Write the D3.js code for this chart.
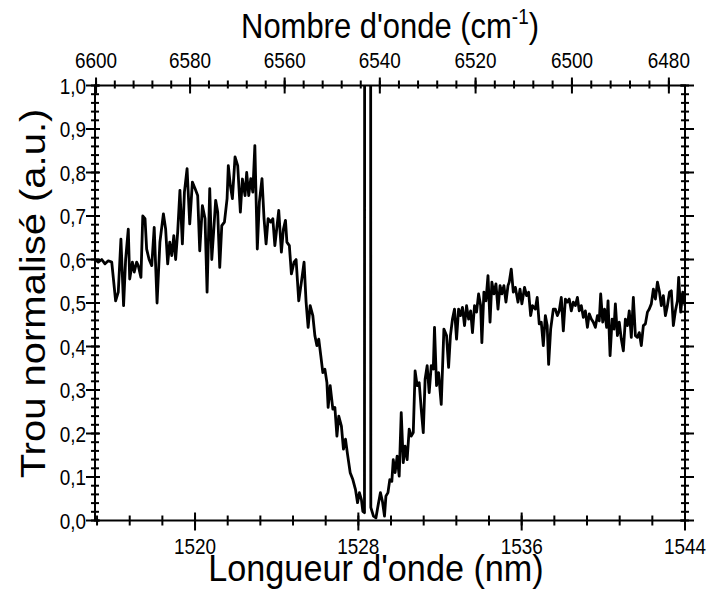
<!DOCTYPE html>
<html>
<head>
<meta charset="utf-8">
<script src="https://cdn.jsdelivr.net/npm/d3@7"></script>
<style>
  body { margin: 0; background: #fff; }
  text { font-family: "Liberation Sans", Arial, sans-serif; fill: #000; }
</style>
</head>
<body>
<script>
'use strict';

// Wavelength (nm) and normalised hole depth.
const wavelength = [
  1515.10, 1515.26, 1515.43, 1515.59, 1515.75, 1515.92, 1516.11, 1516.24, 1516.37, 1516.50,
  1516.60, 1516.73, 1516.80, 1516.93, 1517.02, 1517.14, 1517.22, 1517.35, 1517.44, 1517.55,
  1517.63, 1517.75, 1517.88, 1518.00, 1518.14, 1518.28, 1518.45, 1518.56, 1518.66, 1518.76,
  1518.86, 1518.96, 1519.05, 1519.15, 1519.26, 1519.38, 1519.48, 1519.61, 1519.74, 1519.87,
  1520.00, 1520.13, 1520.23, 1520.36, 1520.49, 1520.59, 1520.72, 1520.82, 1520.92, 1521.01,
  1521.11, 1521.21, 1521.31, 1521.44, 1521.57, 1521.63, 1521.73, 1521.83, 1521.96, 1522.09,
  1522.22, 1522.32, 1522.45, 1522.53, 1522.63, 1522.73, 1522.83, 1522.93, 1523.05, 1523.15,
  1523.28, 1523.38, 1523.48, 1523.58, 1523.71, 1523.81, 1523.91, 1524.00, 1524.10, 1524.23,
  1524.33, 1524.43, 1524.50, 1524.62, 1524.72, 1524.85, 1524.95, 1525.08, 1525.21, 1525.34,
  1525.44, 1525.54, 1525.64, 1525.77, 1525.87, 1525.97, 1526.06, 1526.16, 1526.26, 1526.36,
  1526.46, 1526.52, 1526.62, 1526.75, 1526.85, 1526.95, 1527.04, 1527.17, 1527.27, 1527.37,
  1527.47, 1527.60, 1527.73, 1527.86, 1527.96, 1528.05, 1528.15, 1528.22, 1528.30, 1528.31,
  1528.60, 1528.61, 1528.74, 1528.86, 1528.99, 1529.08, 1529.18, 1529.28, 1529.35, 1529.45,
  1529.54, 1529.64, 1529.71, 1529.80, 1529.90, 1530.00, 1530.10, 1530.20, 1530.29, 1530.39,
  1530.49, 1530.59, 1530.69, 1530.78, 1530.88, 1530.98, 1531.08, 1531.18, 1531.27, 1531.37,
  1531.47, 1531.57, 1531.67, 1531.73, 1531.83, 1531.93, 1532.06, 1532.19, 1532.32, 1532.42,
  1532.51, 1532.61, 1532.71, 1532.81, 1532.91, 1533.00, 1533.10, 1533.20, 1533.30, 1533.40,
  1533.50, 1533.59, 1533.69, 1533.79, 1533.89, 1533.99, 1534.05, 1534.15, 1534.25, 1534.35,
  1534.45, 1534.54, 1534.64, 1534.74, 1534.84, 1534.94, 1535.03, 1535.13, 1535.23, 1535.33,
  1535.39, 1535.49, 1535.59, 1535.69, 1535.82, 1535.92, 1536.01, 1536.14, 1536.24, 1536.34,
  1536.44, 1536.53, 1536.67, 1536.76, 1536.86, 1536.96, 1537.06, 1537.16, 1537.25, 1537.32,
  1537.42, 1537.55, 1537.65, 1537.75, 1537.84, 1537.94, 1538.04, 1538.14, 1538.24, 1538.33,
  1538.43, 1538.53, 1538.63, 1538.73, 1538.82, 1538.92, 1539.02, 1539.12, 1539.22, 1539.31,
  1539.41, 1539.51, 1539.61, 1539.71, 1539.80, 1539.87, 1539.97, 1540.06, 1540.16, 1540.23,
  1540.33, 1540.43, 1540.52, 1540.59, 1540.69, 1540.78, 1540.88, 1540.98, 1541.08, 1541.18,
  1541.27, 1541.37, 1541.47, 1541.57, 1541.67, 1541.76, 1541.86, 1541.96, 1542.06, 1542.16,
  1542.25, 1542.35, 1542.45, 1542.55, 1542.65, 1542.75, 1542.84, 1542.94, 1543.04, 1543.14,
  1543.24, 1543.33, 1543.43, 1543.53, 1543.63, 1543.69, 1543.79, 1543.89, 1544.00
];

const holeDepth = [
  0.600, 0.594, 0.600, 0.590, 0.597, 0.594, 0.505, 0.525, 0.647, 0.494,
  0.600, 0.670, 0.555, 0.594, 0.571, 0.594, 0.586, 0.559, 0.700, 0.694,
  0.624, 0.600, 0.586, 0.674, 0.500, 0.640, 0.705, 0.670, 0.590, 0.640,
  0.609, 0.655, 0.600, 0.663, 0.759, 0.636, 0.755, 0.809, 0.682, 0.778,
  0.763, 0.747, 0.620, 0.724, 0.694, 0.525, 0.763, 0.600, 0.670, 0.736,
  0.709, 0.582, 0.678, 0.686, 0.740, 0.816, 0.770, 0.740, 0.836, 0.816,
  0.709, 0.785, 0.747, 0.800, 0.747, 0.786, 0.755, 0.862, 0.624, 0.732,
  0.786, 0.694, 0.636, 0.694, 0.686, 0.694, 0.632, 0.670, 0.713, 0.617,
  0.670, 0.690, 0.640, 0.632, 0.567, 0.594, 0.600, 0.505, 0.548, 0.594,
  0.502, 0.444, 0.494, 0.471, 0.425, 0.402, 0.417, 0.379, 0.340, 0.348,
  0.317, 0.260, 0.310, 0.256, 0.260, 0.194, 0.240, 0.217, 0.164, 0.187,
  0.152, 0.110, 0.094, 0.071, 0.041, 0.064, 0.048, 0.021, 0.018, 1.500,
  1.500, 0.030, 0.010, 0.006, 0.041, 0.064, 0.044, 0.010, 0.056, 0.064,
  0.094, 0.090, 0.140, 0.110, 0.148, 0.102, 0.248, 0.133, 0.171, 0.140,
  0.210, 0.194, 0.202, 0.344, 0.310, 0.317, 0.256, 0.202, 0.325, 0.356,
  0.294, 0.356, 0.348, 0.444, 0.310, 0.340, 0.267, 0.440, 0.425, 0.352,
  0.425, 0.463, 0.486, 0.417, 0.486, 0.471, 0.490, 0.448, 0.494, 0.463,
  0.482, 0.432, 0.494, 0.479, 0.521, 0.494, 0.409, 0.525, 0.505, 0.563,
  0.456, 0.548, 0.521, 0.544, 0.486, 0.540, 0.521, 0.540, 0.502, 0.540,
  0.548, 0.578, 0.525, 0.536, 0.502, 0.532, 0.498, 0.536, 0.517, 0.525,
  0.471, 0.494, 0.486, 0.513, 0.452, 0.456, 0.402, 0.471, 0.448, 0.359,
  0.440, 0.486, 0.486, 0.471, 0.482, 0.513, 0.436, 0.509, 0.502, 0.509,
  0.482, 0.502, 0.494, 0.513, 0.482, 0.494, 0.467, 0.482, 0.444, 0.475,
  0.463, 0.456, 0.444, 0.471, 0.459, 0.521, 0.456, 0.486, 0.444, 0.505,
  0.379, 0.463, 0.440, 0.498, 0.425, 0.456, 0.417, 0.390, 0.463, 0.448,
  0.482, 0.421, 0.513, 0.425, 0.421, 0.432, 0.402, 0.448, 0.452, 0.479,
  0.486, 0.498, 0.532, 0.509, 0.548, 0.525, 0.494, 0.517, 0.471, 0.494,
  0.525, 0.528, 0.448, 0.482, 0.505, 0.559, 0.479, 0.525, 0.494
];

const wlTicks = [1520, 1528, 1536, 1544];
const wnTicks = [6600, 6580, 6560, 6540, 6520, 6500, 6480];
const depthTicks = [0, 0.1, 0.2, 0.3, 0.4, 0.5, 0.6, 0.7, 0.8, 0.9, 1.0];

const width = 711, height = 589;
const plotLeft = 95, plotRight = 685, plotTop = 85.5, plotBottom = 520.5;
// The source figure is squeezed horizontally, text included.
const squeeze = 0.86;

const svg = d3.select('body').append('svg')
  .attr('width', width)
  .attr('height', height);

const x = d3.scaleLinear().domain([1515.1, 1544]).range([plotLeft, plotRight]);
const y = d3.scaleLinear().domain([0, 1]).range([plotBottom, plotTop]);
const xTop = (wn) => x(1e7 / wn);   // wavenumber -> wavelength position

const fmt = (d) => d3.format('.1f')(d).replace('.', ',');

// Minor tick positions.
const wlMinor = d3.range(1515.2, 1544.01, 1.6);
const wnMinor = d3.range(6600, 6479, -4);
const depthMinor = d3.range(0, 1.001, 0.02);

svg.append('defs').append('clipPath').attr('id', 'plot')
  .append('rect')
  .attr('x', plotLeft).attr('y', plotTop)
  .attr('width', plotRight - plotLeft).attr('height', plotBottom - plotTop);

// Data line.
const line = d3.line()
  .x((d, i) => x(wavelength[i]))
  .y((d) => y(d));

svg.append('path')
  .attr('clip-path', 'url(#plot)')
  .attr('d', line(holeDepth))
  .attr('fill', 'none')
  .attr('stroke', '#000')
  .attr('stroke-width', 2.8)
  .attr('stroke-linejoin', 'round');

// Frame.
const $axes = svg.append('g')
  .attr('stroke', '#000')
  .attr('stroke-width', 2)
  .attr('fill', 'none');

$axes.append('rect')
  .attr('x', plotLeft).attr('y', plotTop)
  .attr('width', plotRight - plotLeft).attr('height', plotBottom - plotTop);

// Crossing ticks: out = outside the frame, inn = inside.
const hTicks = (vals, pos, yAxis, out, inn, dir) => {
  $axes.selectAll(null).data(vals).enter().append('line')
    .attr('x1', pos).attr('x2', pos)
    .attr('y1', yAxis + dir * out).attr('y2', yAxis - dir * inn);
};
const vTicks = (vals, xAxis, out, inn, dir) => {
  $axes.selectAll(null).data(vals).enter().append('line')
    .attr('y1', (d) => y(d)).attr('y2', (d) => y(d))
    .attr('x1', xAxis - dir * out).attr('x2', xAxis + dir * inn);
};

hTicks(wlMinor, (d) => x(d), plotBottom, 5, 5, 1);
hTicks(wlTicks, (d) => x(d), plotBottom, 10, 8, 1);
hTicks(wnMinor, (d) => xTop(d), plotTop, 5, 3, -1);
hTicks(wnTicks, (d) => xTop(d), plotTop, 8, 8, -1);
vTicks(depthMinor, plotLeft, 4, 4, 1);
vTicks(depthTicks, plotLeft, 9, 5, 1);
vTicks(depthMinor, plotRight, 4, 4, -1);
vTicks(depthTicks, plotRight, 9, 5, -1);

// Squeezed text helper.
const label = ($parent, tx, ty, size, anchor, sx = squeeze) => $parent.append('text')
  .attr('transform', 'translate(' + tx + ',' + ty + ') scale(' + sx + ',1)')
  .attr('text-anchor', anchor)
  .style('font-size', size + 'px');

// Tick labels.
const $labels = svg.append('g');
wlTicks.forEach((d) => label($labels, x(d), 554, 22, 'middle').text(d));
wnTicks.forEach((d) => label($labels, xTop(d), 68, 22, 'middle').text(d));
depthTicks.forEach((d) => label($labels, 86, y(d) + 8, 22, 'end').text(fmt(d)));

// Axis titles.
label(svg, 376, 581, 36, 'middle', 0.95).text("Longueur d'onde (nm)");

const $topTitle = label(svg, 390, 38, 36, 'middle');
$topTitle.append('tspan').text("Nombre d'onde (cm");
$topTitle.append('tspan').attr('dy', -14).style('font-size', '22px').text('-1');
$topTitle.append('tspan').attr('dy', 14).text(')');

svg.append('text')
  .attr('transform', 'translate(45,293.5) scale(' + squeeze + ',1) rotate(-90)')
  .attr('text-anchor', 'middle')
  .style('font-size', '40px')
  .text('Trou normalisé (a.u.)');
</script>
</body>
</html>
